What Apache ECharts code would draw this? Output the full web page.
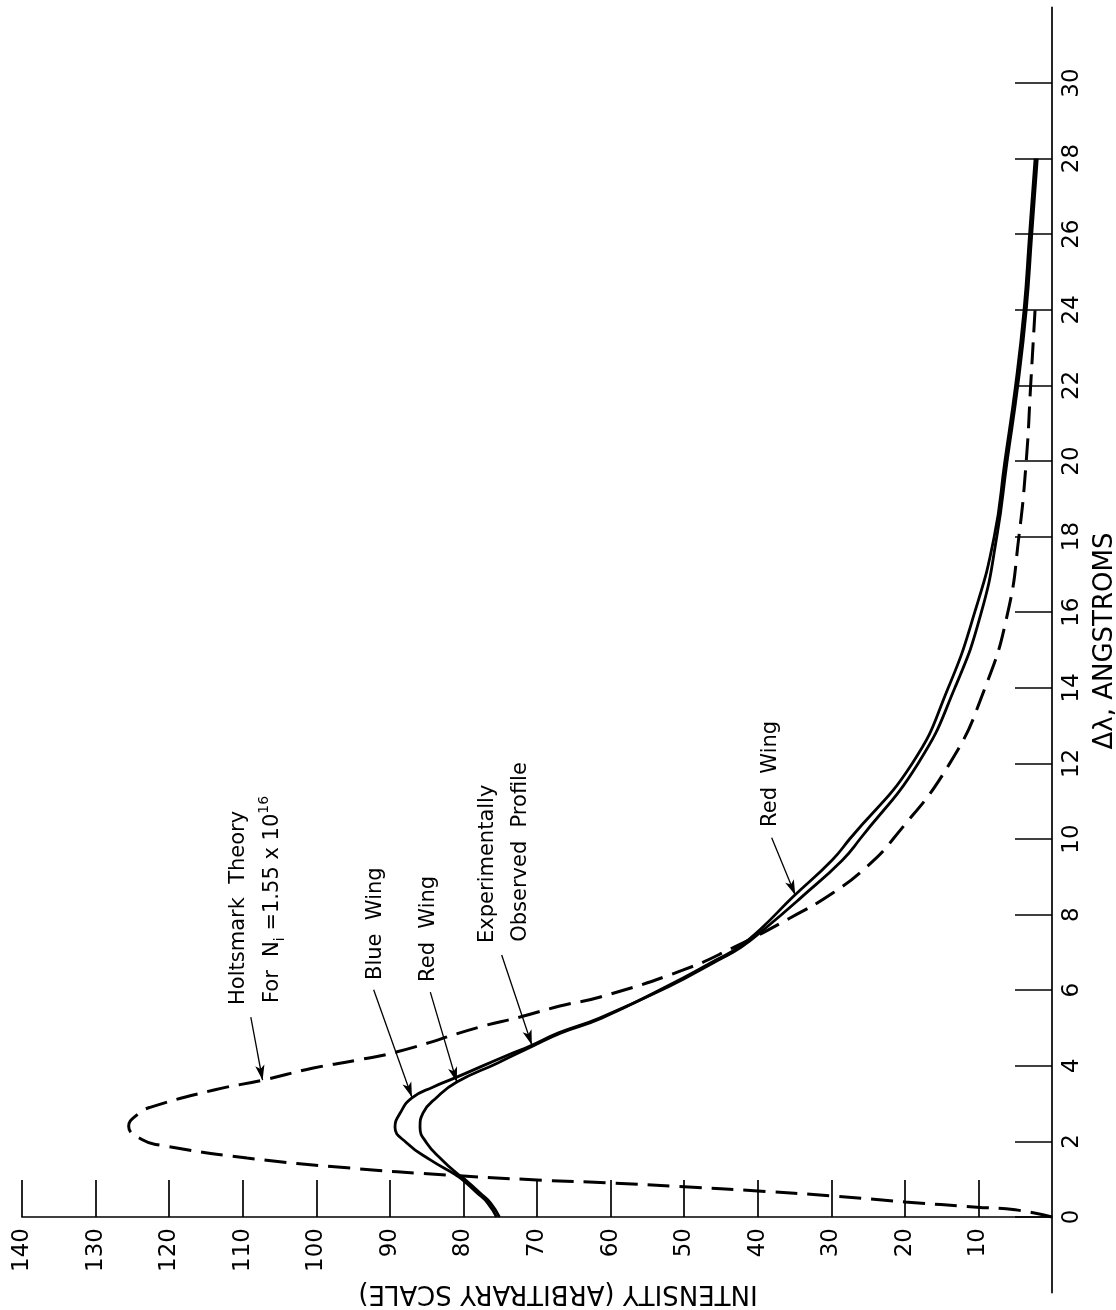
<!DOCTYPE html>
<html>
<head>
<meta charset="utf-8">
<script src="https://cdn.jsdelivr.net/npm/echarts@6/dist/echarts.min.js"></script>
<style>
html,body{margin:0;padding:0;background:#fff;}
#chart{width:1116px;height:1310px;}
</style>
</head>
<body>
<div id="chart"></div>
<script>
// ---- data ----
const intensityTicks = [10, 20, 30, 40, 50, 60, 70, 80, 90, 100, 110, 120, 130, 140];
const deltaTicks = [0, 2, 4, 6, 8, 10, 12, 14, 16, 18, 20, 22, 24, 26, 28, 30];

// each point: [intensity, delta lambda (Angstroms)]
const holtsmark = [
  [0, 0], [5, 0.19], [10.2, 0.26], [20, 0.40], [30, 0.56], [40, 0.69], [50, 0.80],
  [60, 0.90], [70, 0.98], [82.2, 1.11], [95.8, 1.30], [109.4, 1.56],
  [121.2, 1.90], [123.7, 2.05], [125.5, 2.40], [124.2, 2.73], [122.6, 2.90],
  [113.9, 3.36], [107.3, 3.62], [100.4, 3.94], [94.5, 4.15], [89, 4.37], [77.7, 5.03],
  [72.3, 5.29], [66.9, 5.58], [61.4, 5.82], [50.2, 6.53], [43.4, 7.12], [35.6, 7.91],
  [29.8, 8.57], [25.2, 9.26], [21.6, 10.0], [13.9, 12], [9.1, 14], [6.0, 16],
  [4.5, 18], [3.5, 20], [2.9, 22], [2.3, 24]
];

const blueWing = [
  [75.5, 0], [76.7, 0.37], [78.1, 0.63], [80.1, 0.98], [81.0, 1.11],
  [84.5, 1.51], [87.7, 1.96], [89.3, 2.38], [88.6, 2.75], [87.0, 3.15], [84.1, 3.44],
  [80.9, 3.70], [73.3, 4.34], [71.17, 4.5], [67.07, 4.87], [61.57, 5.26],
  [52.13, 6.09], [45.33, 6.8], [42.23, 7.14], [39.2, 7.6], [34.0, 8.47], [28.5, 9.44],
  [26.1, 10], [18.2, 12], [13.2, 14], [9.6, 16], [7.5, 18], [6.1, 20], [4.65, 22],
  [3.5, 24], [2.75, 26], [2.0, 28]
];

const redWing = [
  [75.1, 0], [76.3, 0.37], [77.7, 0.63], [79.7, 0.98], [80.6, 1.11],
  [82.9, 1.51], [85.0, 1.96], [85.9, 2.38], [85.5, 2.75], [83.6, 3.17], [80.9, 3.57],
  [75.4, 4.07], [70.83, 4.5], [66.73, 4.87], [61.23, 5.26],
  [52.47, 6.09], [45.67, 6.8], [42.57, 7.14], [39.7, 7.6], [35.2, 8.47], [29.9, 9.44],
  [27.5, 10], [19.0, 12], [14.1, 14], [10.5, 16], [7.85, 18], [6.4, 20], [4.95, 22],
  [3.8, 24], [3.05, 26], [2.3, 28]
];

// annotation texts: anchor (start of the text) in data units
const noteTexts = [
  '{n|Holtsmark  Theory}',
  '{n|For  N}{b|i}{n| =1.55 x 10}{s|16}',
  '{n|Blue  Wing}',
  '{n|Red  Wing}',
  '{n|Experimentally}',
  '{n|Observed  Profile}',
  '{n|Red  Wing}'
];
const noteAnchors = [
  [110.5, 5.61], [106.0, 5.66], [92.0, 6.27], [84.8, 6.22],
  [76.7, 7.25], [72.3, 7.28], [38.2, 10.32]
];
// leader arrows: [from, to] in data units
const leaderFrom = [[108.9, 5.29], [92.2, 6.01], [84.5, 5.95], [74.8, 6.93], [38.1, 10.03]];
const leaderTo   = [[107.3, 3.62], [87.0, 3.17], [80.9, 3.57], [70.7, 4.55], [34.9, 8.52]];

// ---- chart ----
const FONT = 'DejaVu Sans';
const chart = echarts.init(document.getElementById('chart'), null, {renderer: 'canvas'});

const axisLineStyle = {color: '#000', width: 1.7};

const option = {
  animation: false,
  backgroundColor: '#fff',
  grid: {left: 22, right: 64, top: 7.4, bottom: 17.4, containLabel: false, outerBoundsMode: 'none'},
  xAxis: {
    type: 'value', inverse: true, min: 0, max: 140, position: 'bottom', offset: 0,
    axisLine: {show: true, onZero: false, lineStyle: axisLineStyle},
    axisTick: {show: true, inside: true, length: 37, customValues: intensityTicks, lineStyle: axisLineStyle},
    axisLabel: {show: true, rotate: 90, margin: 11, customValues: intensityTicks,
      color: '#000', fontFamily: FONT, fontSize: 23},
    splitLine: {show: false},
    name: 'INTENSITY (ARBITRARY SCALE)', nameLocation: 'middle', nameRotate: 180, nameGap: 62,
    nameTextStyle: {color: '#000', fontFamily: FONT, fontSize: 26, padding: [0, 42, 0, 0]}
  },
  yAxis: {
    type: 'value', min: -2, max: 32, position: 'right',
    axisLine: {show: true, onZero: false, lineStyle: axisLineStyle},
    axisTick: {show: true, inside: true, length: 37, customValues: deltaTicks, lineStyle: axisLineStyle},
    axisLabel: {show: true, rotate: 90, margin: 9, customValues: deltaTicks,
      color: '#000', fontFamily: FONT, fontSize: 23},
    splitLine: {show: false},
    name: 'Δλ, ANGSTROMS', nameLocation: 'middle', nameRotate: 90, nameGap: 33,
    nameTextStyle: {color: '#000', fontFamily: FONT, fontSize: 26, padding: [0, 0, 0, 18]}
  },
  series: [
    {
      type: 'line', name: 'Holtsmark Theory', data: holtsmark, symbol: 'none',
      smooth: 0.5, z: 3,
      lineStyle: {color: '#000', width: 3, type: [22, 10]},
      markLine: {
        silent: true, animation: false,
        symbol: ['none', 'arrow'], symbolSize: [7, 15],
        label: {show: false},
        lineStyle: {color: '#000', width: 1.3, type: 'solid', curveness: -0.14},
        emphasis: {disabled: true},
        data: leaderFrom.map((f, i) => [{coord: f}, {coord: leaderTo[i]}])
      }
    },
    {
      type: 'line', name: 'Blue Wing', data: blueWing, symbol: 'none',
      smooth: 0.5, z: 4,
      lineStyle: {color: '#000', width: 2.8}
    },
    {
      type: 'line', name: 'Red Wing', data: redWing, symbol: 'none',
      smooth: 0.5, z: 4,
      lineStyle: {color: '#000', width: 2.8}
    }
  ]
};

chart.setOption(option);

// move the intensity axis up to the line delta-lambda = 0
const yZero = chart.convertToPixel({yAxisIndex: 0}, 0);
const yMin = chart.convertToPixel({yAxisIndex: 0}, -2);
chart.setOption({xAxis: {offset: -(yMin - yZero)}});

const rich = {
  n: {font: '21px "DejaVu Sans"', fill: '#000', lineHeight: 30},
  s: {font: '14px "DejaVu Sans"', fill: '#000', verticalAlign: 'top'},
  b: {font: '14px "DejaVu Sans"', fill: '#000', verticalAlign: 'bottom'}
};

const graphics = noteTexts.map((t, i) => {
  const p = chart.convertToPixel({gridIndex: 0}, noteAnchors[i]);
  return {
    type: 'text', x: p[0], y: p[1], rotation: Math.PI / 2, silent: true, z: 10,
    style: {text: t, rich: rich, font: '21px "DejaVu Sans"', fill: '#000',
      align: 'left', verticalAlign: 'middle'}
  };
});
chart.setOption({graphic: graphics});
</script>
</body>
</html>
